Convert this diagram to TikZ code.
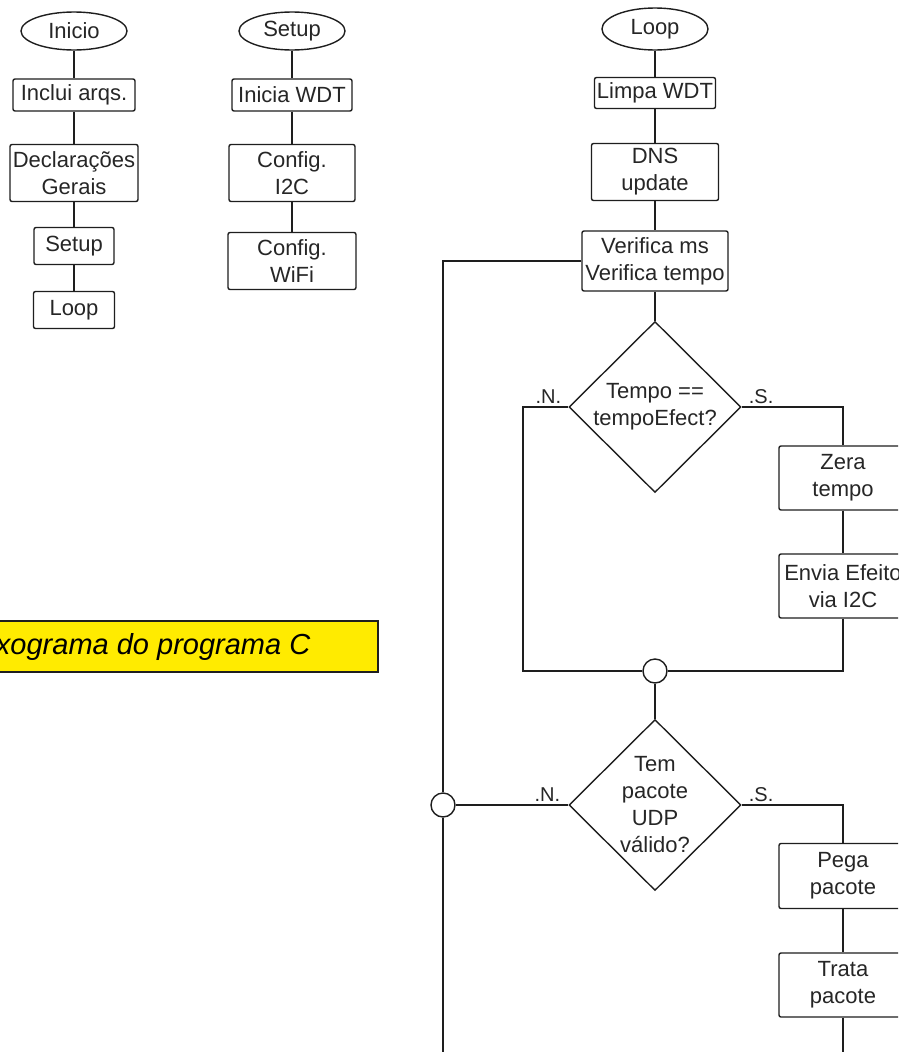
\documentclass[tikz,border=0pt]{standalone}
\usepackage{fontspec}
\setmainfont{Liberation Sans}
\usetikzlibrary{shapes.geometric}
\definecolor{ink}{HTML}{1E1E1E}
\definecolor{txt}{HTML}{262626}
\definecolor{capyellow}{HTML}{FFEB00}

\begin{document}
\begin{tikzpicture}[x=1pt,y=-1pt,
  box/.style={draw=ink,rounded corners=2pt,fill=white,align=center,font=\fontsize{22}{27}\selectfont,text=txt,line width=1.4pt,inner sep=0pt,minimum height=32pt},
  tall/.style={box,minimum height=57pt},
  term/.style={box,ellipse,sharp corners,minimum width=106pt,minimum height=38pt},
  dec/.style={box,diamond,sharp corners,minimum width=172pt,minimum height=171pt},
  jn/.style={draw=ink,circle,fill=white,line width=1.4pt,minimum size=24pt,inner sep=0pt},
  lin/.style={line width=1.7pt,color=ink},
  lab/.style={font=\fontsize{20}{24}\selectfont,text=txt,inner sep=1pt},
  legend/.style={draw=ink,fill=capyellow,line width=1.8pt,font=\fontsize{29}{34}\selectfont\itshape,text=black,minimum width=490pt,minimum height=51pt,inner sep=0pt}]
\clip[use as bounding box] (0,0) rectangle (898,1052);
\fill[white] (0,0) rectangle (898,1052);
% Inicio
\node[term] (ini) at (74,31) {Inicio};
\node[box,minimum width=122pt] (incl) at (74,95) {Inclui arqs.};
\node[tall,minimum width=128pt] (decl) at (74,173) {Declarações\\Gerais};
\node[box,minimum width=80pt,minimum height=37pt] (stp) at (74,246) {Setup};
\node[box,minimum width=81pt,minimum height=37pt] (lp) at (74,310) {Loop};
% Setup
\node[term] (setup) at (292,31) {Setup};
\node[box,minimum width=120pt] (wdt) at (292,95) {Inicia WDT};
\node[tall,minimum width=126pt] (i2c) at (292,173) {Config.\\I2C};
\node[tall,minimum width=128pt] (wifi) at (292,261) {Config.\\WiFi};
% Loop
\node[term,minimum height=42pt] (loop) at (655,29) {Loop};
\node[box,minimum width=121pt,minimum height=31pt] (limpa) at (655,93) {Limpa WDT};
\node[tall,minimum width=127pt] (dns) at (655,172) {DNS\\update};
\node[tall,minimum width=146pt,minimum height=60pt] (verif) at (655,261) {Verifica ms\\Verifica tempo};
\node[dec] (tmp) at (655,407) {Tempo ==\\tempoEfect?};
\node[box,minimum width=128pt,minimum height=64pt] (zera) at (843,478) {Zera\\tempo};
\node[box,minimum width=128pt,minimum height=64pt] (envia) at (843,586) {Envia Efeito\\via I2C};
\node[jn] (jn1) at (655,671) {};
\node[dec] (udp) at (655,805) {Tem\\pacote\\UDP\\válido?};
\node[jn] (jn2) at (443,805) {};
\node[box,minimum width=128pt,minimum height=65pt] (pega) at (843,876) {Pega\\pacote};
\node[box,minimum width=128pt,minimum height=64pt] (trata) at (843,985) {Trata\\pacote};
\coordinate (lpend) at (443,1064);
\coordinate (trend) at (843,1064);
\node[lab,anchor=south east] (n1) at ([xshift=-6pt,yshift=2pt]tmp.west) {.N.};
\node[lab,anchor=south west] (s1) at ([xshift=6pt,yshift=2pt]tmp.east) {.S.};
\node[lab,anchor=south east] (n2) at ([xshift=-7pt,yshift=2pt]udp.west) {.N.};
\node[lab,anchor=south west] (s2) at ([xshift=6pt,yshift=2pt]udp.east) {.S.};
% legenda
\node[legend] (capt) at (133,646.5) {Fluxograma do programa C};
% ligacoes
\draw[lin] (ini) -- (incl);
\draw[lin] (incl) -- (decl);
\draw[lin] (decl) -- (stp);
\draw[lin] (stp) -- (lp);
\draw[lin] (setup) -- (wdt);
\draw[lin] (wdt) -- (i2c);
\draw[lin] (i2c) -- (wifi);
\draw[lin] (loop) -- (limpa);
\draw[lin] (limpa) -- (dns);
\draw[lin] (dns) -- (verif);
\draw[lin] (verif) -- (tmp);
\draw[lin] (tmp.west) -- ++(-45,0) |- (jn1.west);
\draw[lin] (tmp.east) -| (zera.north);
\draw[lin] (zera) -- (envia);
\draw[lin] (envia.south) |- (jn1.east);
\draw[lin] (jn1) -- (udp);
\draw[lin] (udp.west) -- (jn2.east);
\draw[lin] (udp.east) -| (pega.north);
\draw[lin] (pega) -- (trata);
\draw[lin] (trata.south) -- (trend);
\draw[lin] (verif.west) -| (jn2.north);
\draw[lin] (jn2.south) -- (lpend);
\end{tikzpicture}
\end{document}
